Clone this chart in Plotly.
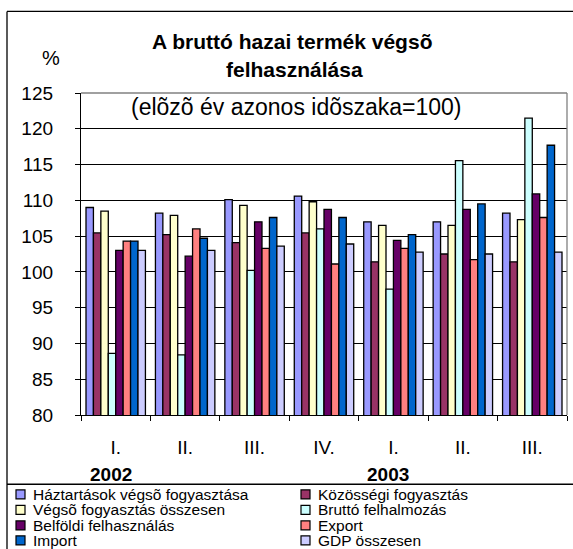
import plotly.graph_objects as go

# ---- data ----
quarters = ["I.", "II.", "III.", "IV.", "I.", "II.", "III."]
years = ["2002", "2002", "2002", "2002", "2003", "2003", "2003"]
year_labels = ["2002", "2003"]

series_names = [
    "Háztartások végsõ fogyasztása",
    "Közösségi fogyasztás",
    "Végsõ fogyasztás összesen",
    "Bruttó felhalmozás",
    "Belföldi felhasználás",
    "Export",
    "Import",
    "GDP összesen",
]
colors = ["#9999FF", "#993366", "#FFFFCC", "#CCFFFF", "#660066", "#FF8080", "#0066CC", "#CCCCFF"]

haztartasok = [109.0, 108.2, 110.1, 110.6, 107.0, 107.0, 108.2]
kozossegi = [105.45, 105.2, 104.1, 105.45, 101.4, 102.5, 101.4]
vegso = [108.5, 107.9, 109.3, 109.8, 106.5, 106.5, 107.3]
brutto = [88.6, 88.4, 100.2, 106.0, 97.6, 115.55, 121.5]
belfoldi = [103.0, 102.2, 107.0, 108.75, 104.4, 108.75, 110.9]
export = [104.3, 106.0, 103.3, 101.1, 103.3, 101.7, 107.6]
import_ = [104.3, 104.7, 107.6, 107.6, 105.2, 109.5, 117.7]
gdp = [103.0, 103.0, 103.6, 103.9, 102.75, 102.5, 102.75]

series_values = [haztartasok, kozossegi, vegso, brutto, belfoldi, export, import_, gdp]

# ---- layout geometry (pixels) ----
W, H = 573, 549
L, R, T, B = 81, 567, 92.7, 415
PW, PH = R - L, B - T

def px(x):
    return (x - L) / PW

def py(y):
    return (B - y) / PH

FONT = "Arial, Liberation Sans, sans-serif"

cats = [f"{y} {q}" for y, q in zip(years, quarters)]

fig = go.Figure()
for name, vals, col in zip(series_names, series_values, colors):
    fig.add_trace(go.Bar(
        x=cats, y=vals, name=name,
        marker=dict(color=col, line=dict(color="#000000", width=1.3)),
        showlegend=False,
    ))

shapes = []
annotations = []

# plot-area border (top, right) in gray
shapes.append(dict(type="line", xref="paper", yref="paper", x0=0, x1=1, y0=1, y1=1,
                   line=dict(color="#808080", width=1.3), layer="above"))
shapes.append(dict(type="line", xref="paper", yref="paper", x0=1, x1=1, y0=0, y1=1,
                   line=dict(color="#808080", width=1.3), layer="above"))

# outer chart border and legend separator
shapes.append(dict(type="line", xref="paper", yref="paper", x0=px(7), x1=px(7), y0=py(11), y1=py(560),
                   line=dict(color="#000000", width=1.3)))
shapes.append(dict(type="line", xref="paper", yref="paper", x0=px(7), x1=px(580), y0=py(11), y1=py(11),
                   line=dict(color="#000000", width=1.3)))
shapes.append(dict(type="line", xref="paper", yref="paper", x0=px(7), x1=px(580), y0=py(484.3), y1=py(484.3),
                   line=dict(color="#000000", width=1.3)))

# title, unit, subtitle
annotations.append(dict(text="<b>A bruttó hazai termék végsõ</b>", xref="paper", yref="paper",
                        x=px(292), y=py(41), xanchor="center", yanchor="middle", showarrow=False,
                        font=dict(family=FONT, size=21, color="#000000")))
annotations.append(dict(text="<b>felhasználása</b>", xref="paper", yref="paper",
                        x=px(294), y=py(69), xanchor="center", yanchor="middle", showarrow=False,
                        font=dict(family=FONT, size=21, color="#000000")))
annotations.append(dict(text="%", xref="paper", yref="paper",
                        x=px(51), y=py(58), xanchor="center", yanchor="middle", showarrow=False,
                        font=dict(family=FONT, size=20, color="#000000")))
annotations.append(dict(text="(elõzõ év azonos idõszaka=100)", xref="paper", yref="paper",
                        x=px(296), y=py(106.5), xanchor="center", yanchor="middle", showarrow=False,
                        font=dict(family=FONT, size=23, color="#000000")))

# year labels under the first quarter of each year
for yl in year_labels:
    first = cats[years.index(yl)]
    annotations.append(dict(text=f"<b>{yl}</b>", xref="x", yref="paper",
                            x=first, y=py(475), xshift=-5, xanchor="center", yanchor="middle",
                            showarrow=False, font=dict(family=FONT, size=19, color="#000000")))

# legend (two columns)
col_x = [16, 301]
row_y = [494.5, 510, 525.5, 540.5]
for i, (name, col) in enumerate(zip(series_names, colors)):
    cx = col_x[i % 2]
    ry = row_y[i // 2]
    shapes.append(dict(type="rect", xref="paper", yref="paper",
                       x0=px(cx), x1=px(cx + 9), y0=py(ry - 4.5), y1=py(ry + 4.5),
                       fillcolor=col, line=dict(color="#000000", width=1.2)))
    annotations.append(dict(text=name, xref="paper", yref="paper",
                            x=px(cx + 15), y=py(ry), xanchor="left", yanchor="middle",
                            showarrow=False, font=dict(family=FONT, size=15.5, color="#000000")))

fig.update_layout(
    width=W, height=H,
    margin=dict(l=L, r=W - R, t=T, b=H - B, pad=0),
    paper_bgcolor="#FFFFFF", plot_bgcolor="#FFFFFF",
    barmode="group", bargap=0.144, bargroupgap=0,
    font=dict(family=FONT, color="#000000"),
    shapes=shapes, annotations=annotations,
    showlegend=False,
)
fig.update_xaxes(
    type="category", tickvals=cats, ticktext=quarters,
    showgrid=False, showline=True, linecolor="#000000", linewidth=1.3,
    ticks="outside", tickson="boundaries", ticklen=5, tickcolor="#000000", tickwidth=1.3,
    tickfont=dict(family=FONT, size=19, color="#000000"), ticklabelstandoff=15,
    zeroline=False,
)
fig.update_yaxes(
    range=[80, 125], dtick=5, tick0=80,
    showgrid=True, gridcolor="#000000", gridwidth=1,
    showline=True, linecolor="#000000", linewidth=1.3,
    ticks="outside", ticklen=5, tickcolor="#000000", tickwidth=1.3,
    tickfont=dict(family=FONT, size=19, color="#000000"), ticklabelstandoff=18,
    zeroline=False,
)

fig.write_html(
    "out.html",
    config={"displayModeBar": False},
    post_script="document.body.style.margin='0';document.body.style.overflow='hidden';",
)
